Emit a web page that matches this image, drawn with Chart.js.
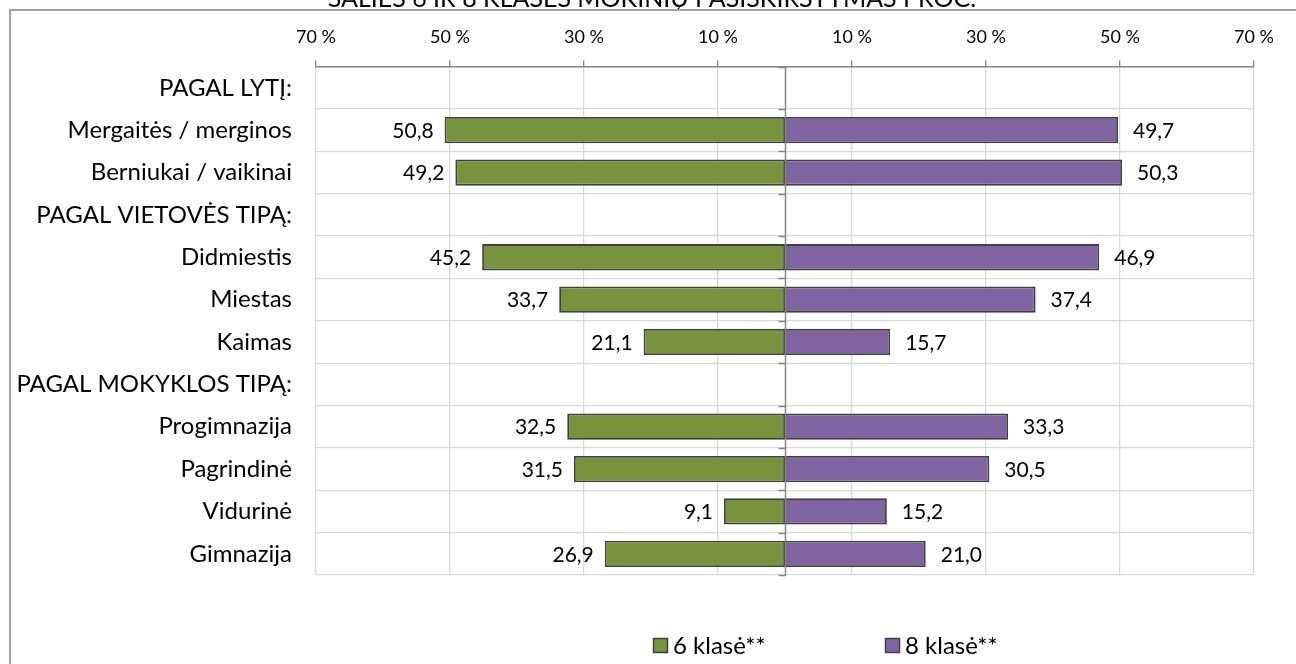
<!DOCTYPE html>
<html><head><meta charset="utf-8">
<script src="https://cdn.jsdelivr.net/npm/chart.js@4"></script>
<style>html,body{margin:0;padding:0;background:#fff;overflow:hidden;} #wrap{width:1296px;height:664px;position:relative;}</style>
</head><body><div id="wrap"><canvas id="c" width="1296" height="664"></canvas></div>
<script>
const categories = ["PAGAL LYTĮ:", "Mergaitės / merginos", "Berniukai / vaikinai", "PAGAL VIETOVĖS TIPĄ:", "Didmiestis", "Miestas", "Kaimas", "PAGAL MOKYKLOS TIPĄ:", "Progimnazija", "Pagrindinė", "Vidurinė", "Gimnazija"];
const grade6 = [null, 50.8, 49.2, null, 45.2, 33.7, 21.1, null, 32.5, 31.5, 9.1, 26.9];
const grade8 = [null, 49.7, 50.3, null, 46.9, 37.4, 15.7, null, 33.3, 30.5, 15.2, 21.0];
const xTicks = [-70, -50, -30, -10, 10, 30, 50, 70];
const seriesLabels = ["6 klasė**", "8 klasė**"];
const seriesColors = ["#77933C", "#8064A2"];
const titleText = "ŠALIES 6 IR 8 KLASĖS MOKINIŲ PASISKIRSTYMAS PROC.";

const FONT = "Lato, 'Open Sans', sans-serif";

const framePlugin = {
  id: 'frame',
  beforeDraw(chart) {
    const ctx = chart.ctx;
    ctx.save();
    ctx.fillStyle = '#000';
    ctx.font = '25px ' + FONT;
    ctx.textAlign = 'center';
    ctx.textBaseline = 'alphabetic';
    ctx.fillText(titleText, 652, 7);
    ctx.strokeStyle = '#a0a0a0';
    ctx.lineWidth = 2;
    ctx.strokeRect(10, 10, 1400, 800);
    ctx.restore();
  }
};

const centerAxisPlugin = {
  id: 'centerAxis',
  afterDatasetsDraw(chart) {
    const ctx = chart.ctx;
    const xs = chart.scales.x;
    const x0 = Math.round(xs.getPixelForValue(0)) + 0.5;
    const area = chart.chartArea;
    ctx.save();
    ctx.strokeStyle = '#868686';
    ctx.lineWidth = 1.5;
    ctx.beginPath();
    ctx.moveTo(x0, area.top);
    ctx.lineTo(x0, area.bottom + 1);
    const n = categories.length;
    const step = (area.bottom - area.top) / n;
    for (let i = 0; i <= n; i++) {
      const y = Math.round(area.top + i * step) + 0.5;
      ctx.moveTo(x0 - 7, y);
      ctx.lineTo(x0, y);
    }
    ctx.stroke();
    // data labels
    ctx.fillStyle = '#000';
    ctx.font = '21px ' + FONT;
    ctx.textBaseline = 'middle';
    chart.data.datasets.forEach((ds, i) => {
      const meta = chart.getDatasetMeta(i);
      meta.data.forEach((el, j) => {
        const v = ds.data[j];
        if (v == null) return;
        const txt = Math.abs(v).toFixed(1).replace('.', ',');
        if (v < 0) { ctx.textAlign = 'right'; ctx.fillText(txt, el.x - 11, el.y + 1); }
        else { ctx.textAlign = 'left'; ctx.fillText(txt, el.x + 15, el.y + 1); }
      });
    });
    ctx.restore();
  }
};

const legendPlugin = {
  id: 'customLegend',
  afterDraw(chart) {
    const ctx = chart.ctx;
    ctx.save();
    ctx.font = '24px ' + FONT;
    ctx.textBaseline = 'middle';
    ctx.textAlign = 'left';
    const starts = [653, 885];
    const cy = 645;
    chart.data.datasets.forEach((ds, i) => {
      const x = starts[i];
      ctx.fillStyle = ds.backgroundColor;
      ctx.fillRect(x, cy - 7, 15, 15);
      ctx.strokeStyle = '#404040';
      ctx.lineWidth = 1.5;
      ctx.strokeRect(x + 0.5, cy - 6.5, 14, 14);
      ctx.fillStyle = '#000';
      ctx.fillText(ds.label, x + 20, cy + 1);
    });
    ctx.restore();
  }
};

new Chart(document.getElementById('c'), {
  type: 'bar',
  data: {
    labels: categories,
    datasets: [
      { label: seriesLabels[0], data: grade6.map(v => v == null ? null : -v), backgroundColor: seriesColors[0], borderColor: '#404040', borderWidth: 1.8, borderSkipped: false, barPercentage: 0.62, categoryPercentage: 1.0 },
      { label: seriesLabels[1], data: grade8, backgroundColor: seriesColors[1], borderColor: '#404040', borderWidth: 1.8, borderSkipped: false, barPercentage: 0.62, categoryPercentage: 1.0 }
    ]
  },
  options: {
    indexAxis: 'y',
    responsive: false,
    animation: false,
    layout: { padding: { top: 13, left: 0, right: 42, bottom: 89 } },
    plugins: { legend: { display: false }, tooltip: { enabled: false }, title: { display: false } },
    scales: {
      x: {
        type: 'linear', position: 'top', min: -70, max: 70, stacked: true,
        afterBuildTicks: s => { s.ticks = xTicks.map(v => ({ value: v })); },
        ticks: { callback: v => Math.abs(v) + ' %', font: { family: FONT, size: 18 }, color: '#000', padding: 13, maxRotation: 0, autoSkip: false },
        grid: { color: '#d9d9d9', lineWidth: 1.3, tickColor: '#868686', tickLength: 6, drawTicks: true },
        border: { color: '#868686', width: 1.5 }
      },
      y: {
        type: 'category', stacked: true, offset: true,
        grid: { offset: true, color: '#d9d9d9', lineWidth: 1.3, drawTicks: false },
        border: { display: false },
        ticks: { font: { family: FONT, size: 24 }, color: '#000', padding: 24, autoSkip: false },
        afterFit: s => { s.width = 316; }
      }
    }
  },
  plugins: [framePlugin, centerAxisPlugin, legendPlugin]
});
</script>
</body></html>
